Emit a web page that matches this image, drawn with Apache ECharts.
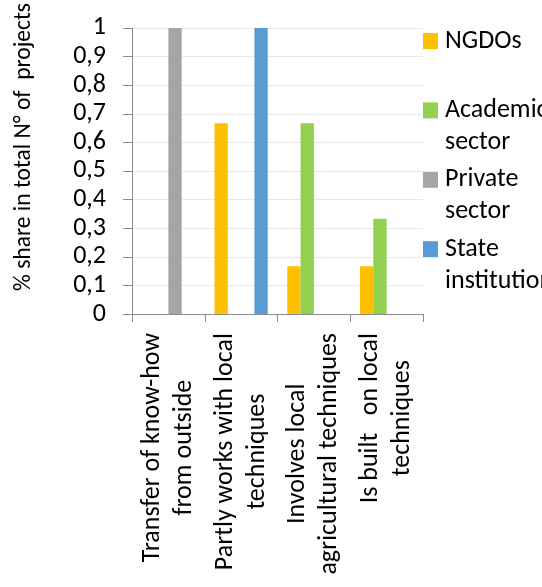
<!DOCTYPE html>
<html>
<head>
<meta charset="utf-8">
<script src="https://cdn.jsdelivr.net/npm/echarts@6/dist/echarts.min.js"></script>
<style>
  html, body { margin: 0; padding: 0; background: #fff; }
  #chart { width: 542px; height: 587px; }
</style>
</head>
<body>
<div id="chart"></div>
<script>
// Project approaches and the share of each actor group's projects
const categories = [
  'Transfer of know-how\nfrom outside',
  'Partly works with local\ntechniques',
  'Involves local\nagricultural techniques',
  'Is built   on local\ntechniques'
];
const seriesNames = ['NGDOs', 'Academic sector', 'Private sector', 'State institutions'];
// legend labels: a blank first line keeps the swatch level with the first text line
const legendLabels = [' \nNGDOs\n ', ' \nAcademic\nsector', ' \nPrivate\nsector', ' \nState\ninstitutions'];
const ngdos = [0, 0.667, 0.167, 0.167];
const academic = [0, 0, 0.667, 0.333];
const privateSector = [1, 0, 0, 0];
const stateInst = [0, 1, 0, 0];
const colors = ['#FFC000', '#92D050', '#A5A5A5', '#5B9BD5'];
const yAxisTitle = '% share in total N° of  projects';

const FONT = 'Carlito, Calibri, Lato, sans-serif';
const values = [ngdos, academic, privateSector, stateInst];

const chart = echarts.init(document.getElementById('chart'), null, { renderer: 'canvas' });

chart.setOption({
  animation: false,
  backgroundColor: '#ffffff',
  textStyle: { fontFamily: FONT, color: '#000' },
  grid: { left: 132, right: 119, top: 22, bottom: 273, containLabel: false },
  legend: {
    orient: 'vertical',
    left: 423,
    top: -7,
    padding: 0,
    icon: 'rect',
    itemWidth: 15,
    itemHeight: 16,
    itemGap: -26.6,
    selectedMode: false,
    data: seriesNames,
    formatter: name => legendLabels[seriesNames.indexOf(name)],
    textStyle: {
      fontFamily: FONT,
      fontSize: 26,
      color: '#000',
      lineHeight: 32,
      padding: [0, 0, 0, 2]
    }
  },
  xAxis: {
    type: 'category',
    data: categories,
    axisLine: { show: true, lineStyle: { color: '#8c8c8c', width: 1 } },
    axisTick: { show: true, length: 8, lineStyle: { color: '#8c8c8c' } },
    axisLabel: {
      interval: 0,
      rotate: 90,
      margin: 19,
      color: '#000',
      fontFamily: FONT,
      fontSize: 26,
      formatter: v => v.split('\n').map(l => '{c|' + l + '}').join('\n'),
      rich: {
        c: { align: 'center', fontFamily: FONT, fontSize: 26, lineHeight: 32, color: '#000' }
      }
    },
    splitLine: { show: false }
  },
  yAxis: {
    type: 'value',
    min: 0,
    max: 1,
    interval: 0.1,
    name: yAxisTitle,
    nameLocation: 'middle',
    nameGap: 96,
    nameTextStyle: {
      fontFamily: FONT,
      fontSize: 23.5,
      color: '#000',
      padding: [0, 0, 0, 48]
    },
    axisLine: { show: true, lineStyle: { color: '#8c8c8c', width: 1 } },
    axisTick: { show: true, inside: false, length: 9, lineStyle: { color: '#8c8c8c' } },
    axisLabel: {
      margin: 26,
      color: '#000',
      fontFamily: FONT,
      fontSize: 26,
      formatter: v => String(Math.round(v * 10) / 10).replace('.', ',')
    },
    splitLine: { show: true, lineStyle: { color: '#e8e8e8', width: 1 } }
  },
  series: seriesNames.map((name, i) => ({
    name: name,
    type: 'bar',
    data: values[i],
    barWidth: 13.3,
    barGap: '0%',
    itemStyle: { color: colors[i] }
  }))
});
</script>
</body>
</html>
